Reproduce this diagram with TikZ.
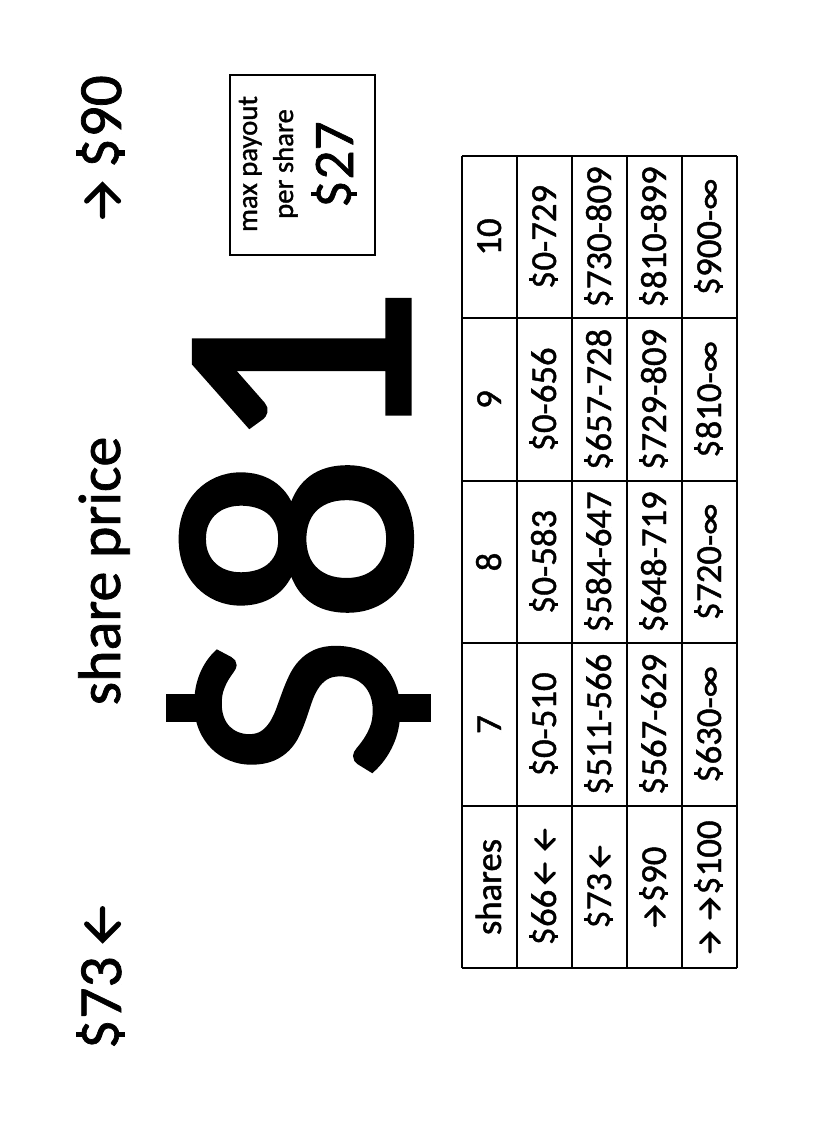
\documentclass[tikz,border=0pt]{standalone}
\usepackage{graphicx}
\usepackage{fontspec}
\setmainfont[FakeBold=1.2]{Carlito}
\newfontfamily\bigfont[FakeBold=1.6]{Carlito}
\newlength\arrem
% arrows drawn to match the reference glyphs
\newcommand\la{\setlength\arrem{1em}\tikz[baseline=0pt]{%
  \useasboundingbox (0pt,0pt) rectangle (0.6\arrem,0.1\arrem);
  \draw[line width=0.085\arrem,line cap=round,line join=miter]
    (0.56\arrem,0.3\arrem) -- (0.05\arrem,0.3\arrem)
    (0.31\arrem,0.56\arrem) -- (0.05\arrem,0.3\arrem) -- (0.31\arrem,0.04\arrem);}}
\newcommand\ra{\setlength\arrem{1em}\tikz[baseline=0pt]{%
  \useasboundingbox (0pt,0pt) rectangle (0.6\arrem,0.1\arrem);
  \draw[line width=0.085\arrem,line cap=round,line join=miter]
    (0.04\arrem,0.3\arrem) -- (0.55\arrem,0.3\arrem)
    (0.29\arrem,0.56\arrem) -- (0.55\arrem,0.3\arrem) -- (0.29\arrem,0.04\arrem);}}
% dollar sign with short stubs (Calibri style)
\newcommand\dol{\setlength\arrem{1em}%
  \makebox[0.507\arrem][c]{%
    \makebox[0pt][c]{\raisebox{0.04\arrem}{\scalebox{0.92}{S}}}%
    \makebox[0pt][c]{\rule[0.62\arrem]{0.085\arrem}{0.11\arrem}}%
    \makebox[0pt][c]{\rule[-0.065\arrem]{0.085\arrem}{0.11\arrem}}}}
\begin{document}
\begin{tikzpicture}[x=0.75pt,y=-0.75pt,
  rtext/.style={rotate=90,anchor=base,inner sep=0pt},
  cell/.style={rtext,font=\fontsize{27.5}{32}\selectfont},
  grid/.style={line width=1.6pt}]
\useasboundingbox (0,0) rectangle (825,1125);
\fill[white] (0,0) rectangle (825,1125);
% headings
\node[rtext,font=\fontsize{46}{52}\selectfont] (low) at (121,978) {\dol73\hspace{0.22em}\la};
\node[rtext,font=\fontsize{46}{52}\selectfont] (high) at (121,147) {\ra\hspace{0.22em}\dol90};
\node[rtext,font=\fontsize{45}{52}\selectfont] (title) at (120,571) {share price};
\node[rtext,font=\bigfont\fontsize{250}{300}\selectfont] (price) at (409,539) {\dol81};
% max payout box
\draw[line width=1.5pt] (230,75) rectangle (375,255);
\node[rtext,font=\fontsize{21.5}{26}\selectfont] (mp1) at (257,164) {max payout};
\node[rtext,font=\fontsize{21.5}{26}\selectfont] (mp2) at (293,164) {per share};
\node[rtext,font=\fontsize{43}{50}\selectfont] (mp3) at (353,165) {\dol27};
% table grid
\foreach \x in {462,517,572,627,682,737} \draw[grid] (\x,156) -- (\x,968);
\foreach \y in {156,318,481,643,806,968} \draw[grid] (462,\y) -- (737,\y);
% header row
\node[cell] (h0) at (501,887) {shares};
\node[cell] (h7) at (501,724.5) {7};
\node[cell] (h8) at (501,562) {8};
\node[cell] (h9) at (501,399.5) {9};
\node[cell] (h10) at (501,237) {10};
% row 1
\node[cell] (a0) at (556,887) {\dol66\hspace{0.15em}\la\hspace{0.32em}\la};
\node[cell] (a7) at (556,724.5) {\dol0-510};
\node[cell] (a8) at (556,562) {\dol0-583};
\node[cell] (a9) at (556,399.5) {\dol0-656};
\node[cell] (a10) at (556,237) {\dol0-729};
% row 2
\node[cell] (b0) at (611,887) {\dol73\hspace{0.15em}\la};
\node[cell] (b7) at (611,724.5) {\dol511-566};
\node[cell] (b8) at (611,562) {\dol584-647};
\node[cell] (b9) at (611,399.5) {\dol657-728};
\node[cell] (b10) at (611,237) {\dol730-809};
% row 3
\node[cell] (c0) at (666,887) {\ra\hspace{0.08em}\dol90};
\node[cell] (c7) at (666,724.5) {\dol567-629};
\node[cell] (c8) at (666,562) {\dol648-719};
\node[cell] (c9) at (666,399.5) {\dol729-809};
\node[cell] (c10) at (666,237) {\dol810-899};
% row 4
\node[cell] (d0) at (721,887) {\ra\hspace{0.32em}\ra\hspace{0.08em}\dol100};
\node[cell] (d7) at (721,724.5) {\dol630-∞};
\node[cell] (d8) at (721,562) {\dol720-∞};
\node[cell] (d9) at (721,399.5) {\dol810-∞};
\node[cell] (d10) at (721,237) {\dol900-∞};
\end{tikzpicture}
\end{document}
